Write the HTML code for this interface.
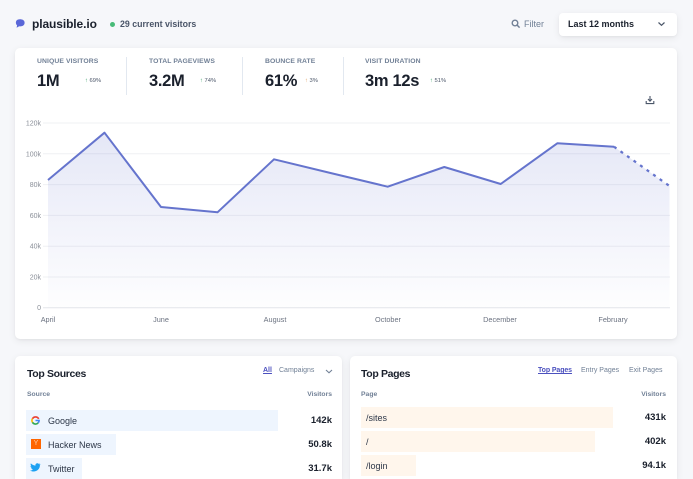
<!DOCTYPE html>
<html><head><meta charset="utf-8"><style>
*{margin:0;padding:0;box-sizing:border-box}
html,body{width:693px;height:479px;overflow:hidden;background:#f6f7fa;font-family:"Liberation Sans",sans-serif;color:#1a202c}
body{position:relative}
.a{position:absolute;white-space:nowrap}
.card{position:absolute;background:#fff;border-radius:5px;box-shadow:0 2px 8px rgba(0,0,0,0.07),0 1px 2px rgba(0,0,0,0.04)}
.lbl{font-size:6.8px;font-weight:bold;color:#718096;line-height:10px;letter-spacing:0.1px}
.val{font-size:16.5px;font-weight:bold;color:#1a202c;line-height:20px;letter-spacing:-0.3px}
.pct{font-size:5.8px;color:#4a5568;line-height:8px}
.pct b{color:#38a169;font-weight:normal}
.sep{position:absolute;top:57px;width:1px;height:38px;background:#e2e8f0}
.yl{font-size:7px;fill:#8a8f98}
.xl{font-size:7.3px;fill:#6b7280}
.h3{font-size:10.5px;font-weight:bold;letter-spacing:-0.35px;line-height:14px;color:#1a202c}
.th{font-size:6.8px;font-weight:bold;color:#718096;line-height:10px}
.row{font-size:9px;line-height:12px;color:#2d3748}
.num{font-size:9.5px;font-weight:bold;line-height:12px;color:#1a202c;text-align:right}
.tab{font-size:7px;line-height:10px;color:#718096}
</style></head><body>

<!-- header -->
<svg class="a" style="left:15px;top:19px" width="11" height="10" viewBox="0 0 11 10"><path d="M2.5 0.8 C5 -0.3 9.5 0.3 9.6 3.6 C9.7 6.6 6.5 7.8 4.2 7.2 L1.6 8.8 L2.1 6.3 C0.6 5.2 0.2 2 2.5 0.8Z" fill="#5a67d8"/></svg>
<div class="a" style="left:32px;top:16px;font-size:12px;font-weight:bold;line-height:16px;color:#1a202c;letter-spacing:-0.1px">plausible.io</div>
<div class="a" style="left:110px;top:22px;width:5px;height:5px;border-radius:50%;background:#48bb78"></div>
<div class="a" style="left:120px;top:18px;font-size:8.8px;font-weight:bold;line-height:12px;color:#4a5568">29 current visitors</div>

<svg class="a" style="left:511px;top:19px" width="10" height="10" viewBox="0 0 10 10"><circle cx="4" cy="4" r="2.8" fill="none" stroke="#718096" stroke-width="1.4"/><line x1="6" y1="6" x2="8.6" y2="8.6" stroke="#718096" stroke-width="1.5"/></svg>
<div class="a" style="left:524px;top:18px;font-size:9px;line-height:12px;color:#718096">Filter</div>
<div class="card" style="left:559px;top:13px;width:118px;height:23px;border-radius:4px"></div>
<div class="a" style="left:568px;top:18px;font-size:9px;font-weight:bold;line-height:12px;color:#1a202c">Last 12 months</div>
<svg class="a" style="left:657px;top:21px" width="9" height="6" viewBox="0 0 9 6"><path d="M1.5 1.5 L4.5 4.3 L7.5 1.5" fill="none" stroke="#4a5568" stroke-width="1.2"/></svg>

<!-- main card -->
<div class="card" style="left:15px;top:48px;width:662px;height:291px"></div>

<div class="a lbl" style="left:37px;top:57px">UNIQUE VISITORS</div>
<div class="a val" style="left:37px;top:71px">1M</div>
<div class="a pct" style="left:85px;top:77px"><b>↑</b> 69%</div>
<div class="sep" style="left:126px"></div>

<div class="a lbl" style="left:149px;top:57px">TOTAL PAGEVIEWS</div>
<div class="a val" style="left:149px;top:71px">3.2M</div>
<div class="a pct" style="left:200px;top:77px"><b>↑</b> 74%</div>
<div class="sep" style="left:242px"></div>

<div class="a lbl" style="left:265px;top:57px">BOUNCE RATE</div>
<div class="a val" style="left:265px;top:71px">61%</div>
<div class="a pct" style="left:305px;top:77px"><b style="color:#e0a060">↑</b> 3%</div>
<div class="sep" style="left:343px"></div>

<div class="a lbl" style="left:365px;top:57px">VISIT DURATION</div>
<div class="a val" style="left:365px;top:71px">3m 12s</div>
<div class="a pct" style="left:430px;top:77px"><b>↑</b> 51%</div>

<svg class="a" style="left:645px;top:95px" width="10" height="10" viewBox="0 0 10 10"><path d="M5 1 V6 M3 4 L5 6.2 L7 4" fill="none" stroke="#4a5568" stroke-width="1.1"/><path d="M1.2 6 V8.6 H8.8 V6" fill="none" stroke="#4a5568" stroke-width="1.1"/></svg>

<!-- chart -->
<svg class="a" style="left:0;top:0" width="693" height="479" viewBox="0 0 693 479">
<defs><linearGradient id="g" x1="0" y1="0" x2="0" y2="1"><stop offset="0" stop-color="#6574cd" stop-opacity="0.17"/><stop offset="1" stop-color="#6574cd" stop-opacity="0.01"/></linearGradient></defs>
<g stroke="#eff0f3" stroke-width="1">
<line x1="43" y1="123" x2="670" y2="123"/>
<line x1="43" y1="153.8" x2="670" y2="153.8"/>
<line x1="43" y1="184.6" x2="670" y2="184.6"/>
<line x1="43" y1="215.4" x2="670" y2="215.4"/>
<line x1="43" y1="246.2" x2="670" y2="246.2"/>
<line x1="43" y1="277" x2="670" y2="277"/>
</g>
<line x1="43" y1="307.7" x2="670" y2="307.7" stroke="#e4e6ea" stroke-width="1"/>
<g class="yl" text-anchor="end">
<text x="41" y="125.5">120k</text>
<text x="41" y="156.3">100k</text>
<text x="41" y="187.1">80k</text>
<text x="41" y="217.9">60k</text>
<text x="41" y="248.7">40k</text>
<text x="41" y="279.5">20k</text>
<text x="41" y="310.2">0</text>
</g>
<path d="M48 180 L104.5 132.7 L161 207 L217.5 212.3 L274 159.3 L330.5 173 L387.7 186.7 L444.3 167 L500.7 184 L557.3 143.3 L614 146.7 L669.5 186 L669.5 307.7 L48 307.7 Z" fill="url(#g)"/>
<path d="M48 180 L104.5 132.7 L161 207 L217.5 212.3 L274 159.3 L330.5 173 L387.7 186.7 L444.3 167 L500.7 184 L557.3 143.3 L614 146.7" fill="none" stroke="#6574cd" stroke-width="2" stroke-linejoin="round"/>
<path d="M614 146.7 L669.5 186" fill="none" stroke="#6574cd" stroke-width="2.2" stroke-dasharray="3 5"/>
<g class="xl" text-anchor="middle">
<text x="48" y="322">April</text>
<text x="161" y="322">June</text>
<text x="275" y="322">August</text>
<text x="388" y="322">October</text>
<text x="500" y="322">December</text>
<text x="613" y="322">February</text>
</g>
</svg>

<!-- Top Sources -->
<div class="card" style="left:15px;top:356px;width:327px;height:123px;border-radius:5px 5px 0 0"></div>
<div class="a h3" style="left:27px;top:367px">Top Sources</div>
<div class="a tab" style="left:263px;top:366px;color:#4c51bf;font-weight:bold;text-decoration:underline">All</div>
<div class="a tab" style="left:279px;top:366px">Campaigns</div>
<svg class="a" style="left:325px;top:369px" width="8" height="5" viewBox="0 0 8 5"><path d="M1 1 L4 3.8 L7 1" fill="none" stroke="#718096" stroke-width="1.1"/></svg>
<div class="a th" style="left:27px;top:390px">Source</div>
<div class="a th" style="left:292px;top:390px;width:40px;text-align:right">Visitors</div>

<div class="a" style="left:26px;top:409.5px;width:252px;height:21px;background:#eef5fe"></div>
<div class="a" style="left:26px;top:434px;width:90px;height:20.5px;background:#eef5fe"></div>
<div class="a" style="left:26px;top:458px;width:56px;height:20.5px;background:#eef5fe"></div>

<svg class="a" style="left:31px;top:416px" width="9" height="9" viewBox="0 0 10 10">
<path d="M8.6 3.2 A4 4 0 0 0 1.6 3" fill="none" stroke="#ea4335" stroke-width="1.8"/>
<path d="M1.6 3 A4 4 0 0 0 1.6 7" fill="none" stroke="#fbbc05" stroke-width="1.8"/>
<path d="M1.6 7 A4 4 0 0 0 8 7.6" fill="none" stroke="#34a853" stroke-width="1.8"/>
<path d="M8 7.6 A4 4 0 0 0 9 5 L5 5" fill="none" stroke="#4285f4" stroke-width="1.8"/>
</svg>
<div class="a row" style="left:48px;top:414.5px">Google</div>
<div class="a" style="left:31px;top:439px;width:10px;height:10px;background:#ff6600"></div>
<div class="a" style="left:31px;top:439px;width:10px;font-size:7px;line-height:10px;color:#ffd0a8;text-align:center">Y</div>
<div class="a row" style="left:48px;top:438.5px">Hacker News</div>
<svg class="a" style="left:30px;top:463px" width="11" height="9" viewBox="0 0 11 9"><path d="M10.5 1.2 C10 1.4 9.6 1.5 9.2 1.6 C9.7 1.3 10 0.8 10.2 0.4 C9.7 0.7 9.3 0.8 8.8 0.9 C7.9 -0.1 6.2 0 5.6 1.3 C5.4 1.8 5.4 2.2 5.5 2.6 C3.6 2.5 2 1.6 0.9 0.4 C0.3 1.4 0.7 2.7 1.5 3.2 C1.1 3.2 0.8 3.1 0.5 3 C0.5 4 1.2 4.9 2.2 5.1 C1.900 5.2 1.5 5.2 1.2 5.1 C1.5 5.9 2.2 6.5 3.1 6.5 C2.2 7.2 1.1 7.6 0 7.5 C4.5 10.2 10 7.3 9.9 2.3 C10.1 2 10.4 1.6 10.5 1.2Z" fill="#1da1f2"/></svg>
<div class="a row" style="left:48px;top:462.5px">Twitter</div>

<div class="a num" style="left:272px;top:414.5px;width:60px">142k</div>
<div class="a num" style="left:272px;top:438.5px;width:60px">50.8k</div>
<div class="a num" style="left:272px;top:462.5px;width:60px">31.7k</div>

<!-- Top Pages -->
<div class="card" style="left:350px;top:356px;width:327px;height:123px;border-radius:5px 5px 0 0"></div>
<div class="a h3" style="left:361px;top:367px">Top Pages</div>
<div class="a tab" style="left:538px;top:366px;color:#4c51bf;font-weight:bold;text-decoration:underline;letter-spacing:-0.1px">Top Pages</div>
<div class="a tab" style="left:581px;top:366px">Entry Pages</div>
<div class="a tab" style="left:629px;top:366px">Exit Pages</div>
<div class="a th" style="left:361px;top:390px">Page</div>
<div class="a th" style="left:626px;top:390px;width:40px;text-align:right">Visitors</div>

<div class="a" style="left:361px;top:406.5px;width:252px;height:21px;background:#fff6ec"></div>
<div class="a" style="left:361px;top:431px;width:234px;height:20.5px;background:#fff6ec"></div>
<div class="a" style="left:361px;top:455px;width:55px;height:21px;background:#fff6ec"></div>
<div class="a row" style="left:366px;top:411.5px">/sites</div>
<div class="a row" style="left:366px;top:435.5px">/</div>
<div class="a row" style="left:366px;top:459.5px">/login</div>
<div class="a num" style="left:606px;top:411.5px;width:60px">431k</div>
<div class="a num" style="left:606px;top:435.5px;width:60px">402k</div>
<div class="a num" style="left:606px;top:459.5px;width:60px">94.1k</div>

</body></html>
